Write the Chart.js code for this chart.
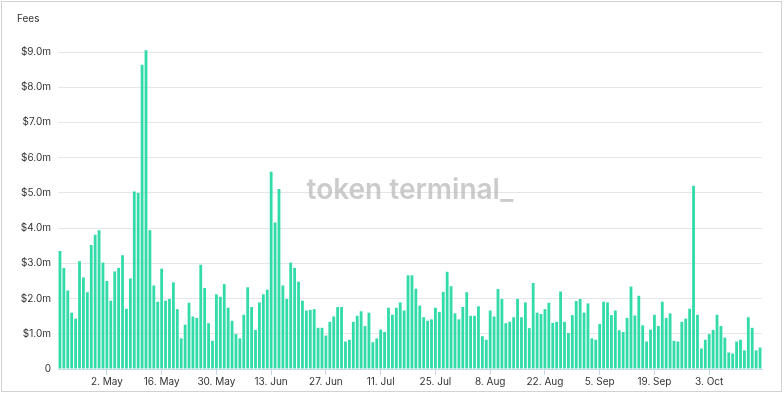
<!DOCTYPE html>
<html>
<head>
<meta charset="utf-8">
<script src="https://cdn.jsdelivr.net/npm/chart.js@4/dist/chart.umd.min.js"></script>
<style>
  html, body { margin: 0; padding: 0; background: #fff; }
  #wrap { position: relative; width: 784px; height: 394px; }
</style>
</head>
<body>
<div id="wrap"><canvas id="chart" width="784" height="394"></canvas></div>
<script>
// daily fees in $m, 20 Apr .. 16 Oct
const fees = [
  3.35, 2.87, 2.23, 1.60, 1.43, 3.06, 2.60, 2.18, 3.52, 3.81,
  3.94, 3.02, 2.50, 1.94, 2.77, 2.87, 3.23, 1.71, 2.57, 5.04,
  5.00, 8.64, 9.05, 3.94, 2.37, 1.91, 2.85, 1.94, 1.99, 2.46,
  1.70, 0.87, 1.26, 1.88, 1.49, 1.45, 2.96, 2.30, 1.30, 0.80,
  2.12, 2.05, 2.41, 1.74, 1.37, 0.99, 0.87, 1.54, 2.32, 1.76,
  1.11, 1.89, 2.12, 2.25, 5.60, 4.16, 5.11, 2.37, 1.99, 3.02,
  2.87, 2.48, 1.94, 1.66, 1.68, 1.70, 1.17, 1.17, 0.95, 1.34,
  1.49, 1.76, 1.76, 0.78, 0.83, 1.34, 1.51, 1.64, 1.22, 1.60,
  0.76, 0.87, 1.12, 1.05, 1.74, 1.54, 1.74, 1.89, 1.66, 2.66,
  2.66, 2.28, 1.80, 1.47, 1.37, 1.41, 1.74, 1.62, 2.19, 2.76,
  2.35, 1.58, 1.41, 1.76, 2.18, 1.51, 1.51, 1.78, 0.93, 0.83,
  1.66, 1.49, 2.27, 1.99, 1.30, 1.34, 1.47, 1.99, 1.47, 1.89,
  1.16, 2.44, 1.60, 1.56, 1.70, 1.88, 1.31, 1.34, 2.20, 1.34,
  1.02, 1.53, 1.93, 1.99, 1.60, 1.86, 0.87, 0.83, 1.28, 1.91,
  1.89, 1.53, 1.66, 1.10, 1.05, 1.45, 2.34, 1.52, 2.08, 1.24,
  0.78, 1.12, 1.54, 1.22, 1.91, 1.45, 1.58, 0.80, 0.78, 1.34,
  1.43, 1.71, 5.20, 1.54, 0.58, 0.83, 0.99, 1.11, 1.54, 1.22,
  0.89, 0.47, 0.44, 0.78, 0.83, 0.53, 1.47, 1.17, 0.53, 0.61
];

const xTickLabels = ["2. May", "16. May", "30. May", "13. Jun", "27. Jun", "11. Jul",
  "25. Jul", "8. Aug", "22. Aug", "5. Sep", "19. Sep", "3. Oct"];
const yTicks = [0, 1, 2, 3, 4, 5, 6, 7, 8, 9];

const months = ["Jan", "Feb", "Mar", "Apr", "May", "Jun", "Jul", "Aug", "Sep", "Oct", "Nov", "Dec"];
const days = [];
const start = new Date(2022, 3, 20);
for (let i = 0; i < fees.length; i++) {
  const d = new Date(start.getFullYear(), start.getMonth(), start.getDate() + i);
  days.push(d.getDate() + ". " + months[d.getMonth()]);
}

const FONT = "Inter, 'Noto Sans', sans-serif";

const decor = {
  id: "decor",
  beforeDraw(chart) {
    const c = chart.ctx;
    c.save();
    c.strokeStyle = "#d2d2d2";
    c.lineWidth = 1;
    c.strokeRect(1.5, 1.5, 780, 390);
    c.fillStyle = "#333";
    c.font = "10px " + FONT;
    c.textBaseline = "middle";
    c.fillText("Fees", 17, 19);
    c.restore();
  },
  afterDatasetsDraw(chart) {
    const c = chart.ctx;
    c.save();
    c.fillStyle = "rgba(185,185,185,0.75)";
    c.font = "600 28px " + FONT;
    c.textAlign = "center";
    c.textBaseline = "middle";
    c.fillText("token terminal_", 410, 191);
    c.restore();
  }
};

new Chart(document.getElementById("chart"), {
  type: "bar",
  data: {
    labels: days,
    datasets: [{
      label: "Fees",
      data: fees,
      backgroundColor: "#33dba9",
      borderWidth: 0,
      barPercentage: 0.72,
      categoryPercentage: 1.0,
      clip: false
    }]
  },
  options: {
    responsive: false,
    animation: false,
    layout: { padding: { left: 0, right: 22, top: 52, bottom: 0 } },
    plugins: { legend: { display: false }, tooltip: { enabled: false } },
    scales: {
      x: {
        offset: true,
        grid: {
          offset: false,
          drawOnChartArea: false,
          drawTicks: true,
          tickLength: 6,
          color: (ctx) => (ctx.tick && xTickLabels.includes(days[ctx.tick.value])) ? "#ccd6eb" : "rgba(0,0,0,0)"
        },
        border: { display: true, color: "#ccd6eb" },
        ticks: {
          autoSkip: false,
          maxRotation: 0,
          minRotation: 0,
          padding: 1,
          color: "#333",
          font: { family: FONT, size: 10 },
          callback: (v, i) => xTickLabels.includes(days[i]) ? days[i] : ""
        },
        afterFit: (s) => { s.height = 25; }
      },
      y: {
        min: 0,
        max: 9,
        afterBuildTicks: (s) => { s.ticks = yTicks.map(v => ({ value: v })); },
        grid: { color: "#e6e6e6", drawTicks: false },
        border: { display: false },
        ticks: {
          padding: 7,
          color: "#333",
          font: { family: FONT, size: 10 },
          callback: (v) => v === 0 ? "0" : "$" + v.toFixed(1) + "m"
        },
        afterFit: (s) => { s.width = 58; }
      }
    }
  },
  plugins: [decor]
});
</script>
</body>
</html>
